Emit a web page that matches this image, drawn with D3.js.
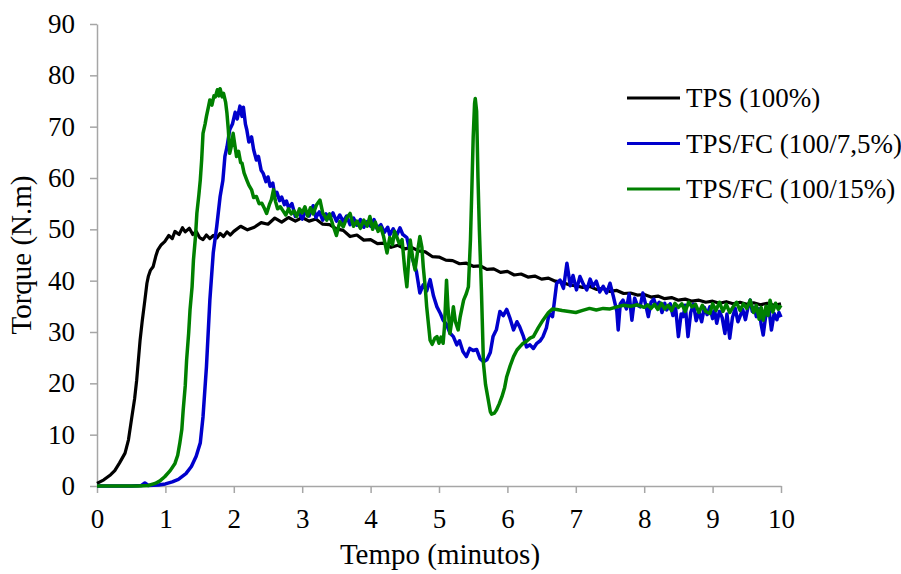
<!DOCTYPE html>
<html>
<head>
<meta charset="utf-8">
<script src="https://cdn.jsdelivr.net/npm/d3@7"></script>
<style>
  body { margin: 0; background: #fff; }
  svg { font-family: "Liberation Serif", "Times New Roman", serif; }
</style>
</head>
<body>
<div id="chart"></div>
<script>
// ---- data ----
const xTicks = [0, 1, 2, 3, 4, 5, 6, 7, 8, 9, 10]
const yTicks = [0, 10, 20, 30, 40, 50, 60, 70, 80, 90]
const seriesNames = ['TPS (100%)', 'TPS/FC (100/7,5%)', 'TPS/FC (100/15%)']
const seriesColors = ['#000000', '#0000cc', '#008000']

const tpsTime = [0, 0.1, 0.2, 0.26, 0.33, 0.41, 0.46, 0.51, 0.55, 0.58, 0.63, 0.66, 0.7, 0.73, 0.75, 0.78, 0.82, 0.86, 0.89, 0.94, 0.99,
  1.05, 1.1, 1.14, 1.2, 1.25, 1.29, 1.35, 1.4, 1.45, 1.5, 1.55, 1.6, 1.65, 1.7, 1.75, 1.8, 1.85, 1.9, 1.95,
  2.0, 2.1, 2.2, 2.3, 2.4, 2.5, 2.6, 2.7, 2.8, 2.9, 3.0, 3.1, 3.2, 3.3, 3.4, 3.5, 3.6, 3.7, 3.8, 3.9,
  4.0, 4.1, 4.2, 4.3, 4.4, 4.5, 4.6, 4.7, 4.8, 4.9, 5.0, 5.1, 5.2, 5.3, 5.4, 5.5, 5.6, 5.7, 5.8, 5.9,
  6.0, 6.1, 6.2, 6.3, 6.4, 6.5, 6.6, 6.7, 6.8, 6.9, 7.0, 7.1, 7.2, 7.3, 7.4, 7.5, 7.6, 7.7, 7.8, 7.9,
  8.0, 8.1, 8.2, 8.3, 8.4, 8.5, 8.6, 8.7, 8.8, 8.9, 9.0, 9.1, 9.2, 9.3, 9.4, 9.5, 9.6, 9.7, 9.8, 9.9, 10.0]
const tpsTorque = [0.5, 1.2, 2.2, 3, 4.5, 6.4, 9, 13.5, 17, 20.6, 28.4, 32, 36.2, 39.5, 40.8, 42, 42.7, 44.8, 46, 47, 47.6,
  48.8, 48.2, 49.6, 49.0, 50.3, 49.5, 50.2, 49.0, 49.6, 48.4, 48.0, 48.9, 48.2, 48.8, 48.3, 49.2, 48.6, 49.5, 48.9,
  49.6, 50.6, 49.9, 50.4, 51.3, 51.0, 52.2, 51.4, 52.3, 51.6, 52.3, 51.6, 52.0, 51.0, 50.9, 50.1, 49.8, 48.6, 48.9, 47.9,
  48.0, 47.2, 47.3, 46.5, 46.9, 46.2, 46.5, 45.8, 45.6, 44.7, 44.6, 44.0, 43.9, 43.3, 43.4, 42.8, 42.9, 42.2, 42.3, 41.6,
  41.8, 41.1, 41.3, 40.7, 40.9, 40.3, 40.5, 39.9, 39.7, 39.2, 39.0, 38.7, 38.9, 38.3, 38.5, 37.9, 38.1, 37.5, 37.6, 37.2,
  37.3, 36.8, 37.0, 36.5, 36.7, 36.2, 36.4, 36.0, 36.2, 35.8, 36.0, 35.6, 35.9, 35.5, 35.8, 35.4, 35.7, 35.3, 35.6, 35.2, 35.5]

const fc75Time = [0, 0.5, 0.65, 0.7, 0.75, 0.9, 1.0, 1.1, 1.19, 1.3, 1.38, 1.45, 1.51, 1.55, 1.6, 1.65, 1.7, 1.75, 1.8, 1.84,
  1.87, 1.9, 1.94, 1.98, 2.02, 2.05, 2.09, 2.12, 2.14, 2.17, 2.19, 2.22, 2.26, 2.29, 2.33, 2.36, 2.4, 2.43, 2.47, 2.5,
  2.53, 2.57, 2.6, 2.63, 2.67, 2.7, 2.74, 2.77, 2.8, 2.85, 2.9, 2.95, 3.0, 3.05, 3.1, 3.16, 3.2, 3.25, 3.3, 3.35,
  3.4, 3.45, 3.5, 3.55, 3.6, 3.65, 3.7, 3.75, 3.8, 3.85, 3.9, 3.95, 4.0, 4.05, 4.09, 4.15, 4.2, 4.25, 4.28, 4.33,
  4.38, 4.43, 4.47, 4.53, 4.58, 4.62, 4.67, 4.72, 4.77, 4.82, 4.87, 4.92, 4.97, 5.02, 5.06, 5.11, 5.16, 5.21, 5.26, 5.3,
  5.35, 5.4, 5.45, 5.5, 5.55, 5.6, 5.65, 5.7, 5.75, 5.79, 5.84, 5.89, 5.94, 5.99, 6.04, 6.09, 6.14, 6.18, 6.23, 6.28,
  6.33, 6.38, 6.43, 6.48, 6.52, 6.57, 6.61, 6.66, 6.72, 6.77, 6.82, 6.87, 6.92, 6.96, 7.01, 7.06, 7.11, 7.16, 7.21, 7.25,
  7.3, 7.35, 7.4, 7.45, 7.5, 7.55, 7.6, 7.62, 7.65, 7.69, 7.74, 7.78, 7.82, 7.86, 7.9, 7.94, 7.98, 8.02, 8.06, 8.1,
  8.14, 8.18, 8.22, 8.26, 8.3, 8.33, 8.38, 8.42, 8.46, 8.5, 8.54, 8.57, 8.6, 8.64, 8.68, 8.72, 8.76, 8.8, 8.84, 8.88,
  8.92, 8.96, 9.0, 9.03, 9.06, 9.1, 9.14, 9.18, 9.21, 9.25, 9.29, 9.33, 9.37, 9.4, 9.44, 9.48, 9.52, 9.55, 9.58, 9.61,
  9.64, 9.68, 9.71, 9.74, 9.78, 9.82, 9.86, 9.9, 9.94, 9.97, 10.0]
const fc75Torque = [0, 0, 0.1, 0.6, 0.1, 0.2, 0.4, 0.8, 1.3, 2.4, 3.8, 5.8, 8.4, 13.5, 23.2, 36.2, 45.5, 50.5, 56.4, 59.5,
  64.2, 66.0, 69.4, 70.5, 72.8, 71.5, 74.0, 72.0, 73.8, 70.5, 69.4, 67.0, 68.0, 65.5, 63.5, 64.2, 61.5, 60.9, 59.3, 60.2,
  58.4, 59.0, 56.5, 57.2, 55.6, 56.3, 54.8, 55.5, 54.2, 55.0, 52.5, 53.4, 52.0, 53.6, 52.6, 54.6, 52.3, 53.4, 51.8, 53.0,
  52.1, 53.2, 51.6, 52.8, 51.5, 52.6, 50.9, 52.2, 50.8, 51.9, 50.4, 51.5, 50.6, 51.9, 50.2, 50.9, 49.4, 50.4, 48.9, 50.1,
  48.8, 50.3, 49.0, 48.4, 45.5, 44.0, 41.8, 37.6, 39.2, 38.0, 40.2, 37.0, 34.9, 33.6, 32.3, 31.5, 29.8, 29.1, 27.5, 28.3,
  26.2, 25.2, 26.8, 26.4, 26.6, 24.8, 24.2, 24.6, 26.0, 29.1, 30.5, 34.0, 33.2, 34.4, 32.6, 30.4, 32.0, 31.0, 29.3, 27.1,
  27.5, 26.8, 27.8, 28.3, 29.1, 30.8, 33.6, 33.0, 39.5, 40.1, 38.5, 43.4, 39.0, 41.0, 38.2, 40.8, 39.3, 38.2, 40.3, 38.9,
  39.9, 37.8, 38.9, 37.6, 39.5, 36.9, 34.0, 30.4, 35.5, 36.2, 34.5, 37.4, 32.3, 36.6, 35.2, 34.9, 37.6, 35.4, 33.0, 35.8,
  36.4, 34.9, 35.8, 33.8, 35.6, 34.3, 35.5, 33.2, 34.6, 29.1, 33.5, 33.0, 35.2, 29.1, 33.8, 35.4, 32.2, 34.0, 32.0, 34.8,
  33.4, 34.9, 32.6, 34.2, 31.7, 34.0, 32.8, 29.7, 33.5, 28.8, 32.8, 34.6, 32.0, 33.0, 34.4, 32.4, 35.0, 36.2, 34.0, 34.8,
  33.0, 34.5, 31.5, 29.4, 33.5, 34.9, 30.4, 33.6, 32.4, 33.8, 32.9]

const fc15Time = [0, 0.6, 0.75, 0.85, 0.92, 0.99, 1.07, 1.14, 1.18, 1.21, 1.24, 1.26, 1.29, 1.31, 1.34, 1.36, 1.39, 1.41, 1.44, 1.46,
  1.49, 1.51, 1.53, 1.55, 1.58, 1.6, 1.63, 1.65, 1.68, 1.71, 1.73, 1.76, 1.78, 1.8, 1.83, 1.85, 1.88, 1.9, 1.92, 1.94,
  1.97, 1.99, 2.02, 2.04, 2.07, 2.1, 2.12, 2.15, 2.19, 2.22, 2.26, 2.29, 2.33, 2.37, 2.41, 2.45, 2.48, 2.52, 2.55, 2.58,
  2.61, 2.64, 2.68, 2.72, 2.76, 2.8, 2.84, 2.88, 2.92, 2.96, 3.0, 3.04, 3.08, 3.12, 3.16, 3.21, 3.26, 3.3, 3.33, 3.36,
  3.4, 3.45, 3.5, 3.55, 3.6, 3.65, 3.7, 3.75, 3.8, 3.85, 3.9, 3.95, 3.99, 4.03, 4.07, 4.11, 4.15, 4.19, 4.24, 4.28,
  4.32, 4.35, 4.38, 4.42, 4.46, 4.5, 4.53, 4.56, 4.58, 4.62, 4.65, 4.69, 4.72, 4.75, 4.77, 4.8, 4.82, 4.85, 4.87, 4.9,
  4.94, 4.97, 5.0, 5.03, 5.06, 5.08, 5.11, 5.13, 5.16, 5.19, 5.21, 5.24, 5.28, 5.31, 5.36, 5.4, 5.43, 5.46, 5.48, 5.5,
  5.52, 5.53, 5.55, 5.57, 5.59, 5.62, 5.65, 5.68, 5.72, 5.75, 5.77, 5.81, 5.84, 5.88, 5.92, 5.96, 5.99, 6.04, 6.09, 6.14,
  6.18, 6.23, 6.28, 6.33, 6.38, 6.45, 6.52, 6.6, 6.66, 6.72, 6.8, 6.9, 7.0, 7.1, 7.2, 7.3, 7.4, 7.5, 7.6, 7.7,
  7.8, 7.9, 8.0, 8.05, 8.1, 8.15, 8.2, 8.25, 8.3, 8.35, 8.4, 8.45, 8.5, 8.55, 8.6, 8.65, 8.7, 8.75, 8.8, 8.85,
  8.9, 8.96, 9.0, 9.05, 9.1, 9.15, 9.2, 9.25, 9.3, 9.35, 9.4, 9.45, 9.5, 9.55, 9.6, 9.64, 9.68, 9.71, 9.74, 9.78,
  9.81, 9.84, 9.88, 9.92, 9.96, 10.0]
const fc15Torque = [0, 0, 0.1, 0.5, 1.0, 1.8, 3.0, 4.4, 6.0, 8.3, 11.0, 14.8, 19.5, 24.5, 29.8, 34.3, 38.8, 44.0, 48.6, 53.1,
  56.8, 59.6, 63.5, 68.7, 70.5, 72.0, 73.9, 75.2, 74.2, 76.0, 75.8, 77.2, 76.0, 77.4, 75.8, 76.5, 74.8, 72.6, 69.4, 64.8,
  66.5, 68.7, 66.0, 64.2, 65.2, 63.0, 62.9, 61.0, 59.6, 58.6, 57.7, 56.2, 56.4, 55.0, 55.1, 54.0, 53.1, 54.8, 55.8, 57.7,
  55.4, 54.0, 54.4, 53.6, 52.8, 54.0, 53.0, 53.6, 52.5, 54.0, 53.2, 54.4, 52.6, 54.2, 53.0, 54.8, 55.7, 53.2, 52.6, 51.8,
  53.0, 50.8, 48.8, 51.5, 50.5, 52.2, 53.1, 50.6, 51.6, 50.2, 51.8, 50.6, 52.5, 50.0, 51.4, 49.6, 50.4, 48.6, 45.4, 48.4,
  47.0, 49.6, 48.6, 47.2, 48.0, 42.1, 38.8, 44.5, 47.9, 44.0, 42.1, 46.0, 48.6, 46.5, 42.7, 38.5, 34.9, 31.0, 28.4, 27.6,
  28.8, 29.1, 27.8, 29.0, 27.8, 31.0, 40.1, 35.0, 29.7, 32.5, 34.9, 32.0, 30.4, 33.0, 36.2, 37.5, 38.8, 48.0, 57.7, 68.0,
  74.5, 75.5, 73.0, 60.0, 50.0, 38.2, 23.9, 19.8, 16.8, 14.5, 14.0, 14.2, 14.8, 16.0, 17.4, 19.2, 21.3, 23.4, 25.2, 26.5,
  27.1, 27.8, 28.2, 28.8, 29.1, 30.8, 32.3, 33.8, 34.5, 34.4, 34.2, 34.0, 33.8, 34.2, 34.6, 34.3, 34.6, 34.5, 34.9, 35.2,
  35.0, 35.3, 34.8, 35.3, 34.6, 35.4, 34.4, 35.6, 34.5, 35.2, 34.2, 35.6, 34.8, 35.5, 34.0, 35.8, 34.9, 35.4, 33.8, 35.2,
  34.0, 33.6, 35.5, 34.2, 35.8, 34.0, 35.4, 33.8, 34.9, 35.8, 34.2, 35.5, 34.6, 36.2, 33.8, 35.2, 32.5, 34.8, 32.3, 35.0,
  33.2, 36.2, 33.9, 35.6, 34.4, 35.2]

// ---- chart ----
const W = 901, H = 574
const margin = {top: 24, right: 120, bottom: 88, left: 97}
const width = 781 - margin.left
const height = 486 - margin.top

const svg = d3.select('#chart').append('svg')
  .attr('width', W)
  .attr('height', H)

svg.append('rect').attr('width', W).attr('height', H).attr('fill', '#fff')

const g = svg.append('g')
  .attr('transform', 'translate(' + margin.left + ',' + margin.top + ')')

const x = d3.scaleLinear().domain([0, 10]).range([0, width])
const y = d3.scaleLinear().domain([0, 90]).range([height, 0])

const axisColor = '#a6a6a6'
const tickFont = '27px'
const titleFont = '29px'

const yAxis = g.append('g')
  .call(d3.axisLeft(y).tickValues(yTicks).tickSize(7).tickPadding(15).tickSizeOuter(0))
yAxis.select('.domain').attr('stroke', axisColor).attr('stroke-width', 1.5)
yAxis.selectAll('.tick line').attr('stroke', axisColor).attr('stroke-width', 1.5)
yAxis.selectAll('text').attr('fill', '#000').style('font-size', tickFont)
  .style('font-family', '"Liberation Serif", serif')

const xAxis = g.append('g')
  .attr('transform', 'translate(0,' + height + ')')
  .call(d3.axisBottom(x).tickValues(xTicks).tickSize(7).tickPadding(16).tickSizeOuter(0))
xAxis.select('.domain').attr('stroke', axisColor).attr('stroke-width', 1.5)
xAxis.selectAll('.tick line').attr('stroke', axisColor).attr('stroke-width', 1.5)
xAxis.selectAll('text').attr('fill', '#000').style('font-size', tickFont)
  .style('font-family', '"Liberation Serif", serif')

const series = [
  {name: seriesNames[0], color: seriesColors[0], t: tpsTime, v: tpsTorque, w: 3.2},
  {name: seriesNames[1], color: seriesColors[1], t: fc75Time, v: fc75Torque, w: 3.5},
  {name: seriesNames[2], color: seriesColors[2], t: fc15Time, v: fc15Torque, w: 3.5}
]

const line = d3.line()
  .x(function(d) { return x(d[0]) })
  .y(function(d) { return y(d[1]) })

series.forEach(function(s) {
  g.append('path')
    .datum(s.t.map(function(t, i) { return [t, s.v[i]] }))
    .attr('fill', 'none')
    .attr('stroke', s.color)
    .attr('stroke-width', s.w)
    .attr('stroke-linejoin', 'round')
    .attr('d', line)
})

// axis titles
svg.append('text')
  .attr('x', 440)
  .attr('y', 564)
  .attr('text-anchor', 'middle')
  .style('font-size', titleFont)
  .text('Tempo (minutos)')

svg.append('text')
  .attr('transform', 'translate(31,255) rotate(-90)')
  .attr('text-anchor', 'middle')
  .style('font-size', titleFont)
  .text('Torque (N.m)')

// legend
const legend = svg.append('g').attr('transform', 'translate(627,98)')
series.forEach(function(s, i) {
  const row = legend.append('g').attr('transform', 'translate(0,' + i * 45.5 + ')')
  row.append('line')
    .attr('x1', 0).attr('x2', 53)
    .attr('stroke', s.color)
    .attr('stroke-width', 3)
  row.append('text')
    .attr('x', 59)
    .attr('dy', '0.35em')
    .style('font-size', tickFont)
    .text(s.name)
})
</script>
</body>
</html>
